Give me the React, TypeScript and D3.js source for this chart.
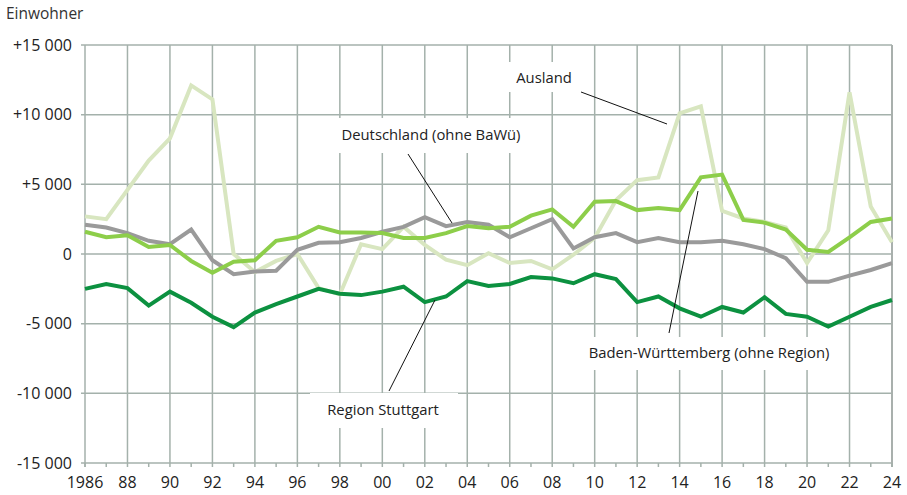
import React, { useEffect, useRef } from 'react';
import * as d3 from 'd3';

const years = d3.range(1986, 2025);

const ausland = [2700, 2500, 4600, 6700, 8300, 12100, 11100, 0, -1300, -500, 0, -2450, -2900, 700, 350, 1950, 650, -400, -800, 50, -650, -500, -1100, -50, 1150, 3850, 5300, 5500, 10100, 10600, 3100, 2550, 2300, 1900, -650, 1700, 11600, 3400, 850];
const deutschland = [2100, 1900, 1500, 950, 700, 1750, -450, -1450, -1250, -1200, 300, 800, 850, 1150, 1600, 1950, 2650, 2000, 2300, 2100, 1200, 1850, 2500, 400, 1200, 1500, 850, 1150, 850, 850, 950, 700, 350, -300, -2000, -2000, -1550, -1150, -650];
const bawue = [1600, 1200, 1350, 500, 650, -500, -1350, -550, -450, 950, 1200, 1950, 1550, 1550, 1500, 1150, 1150, 1500, 2000, 1850, 1950, 2750, 3200, 1950, 3750, 3800, 3150, 3300, 3150, 5500, 5700, 2450, 2250, 1750, 300, 150, 1200, 2300, 2550];
const stuttgart = [-2500, -2150, -2450, -3700, -2700, -3500, -4500, -5250, -4200, -3600, -3050, -2500, -2850, -2950, -2700, -2350, -3450, -3050, -1950, -2300, -2150, -1650, -1750, -2100, -1450, -1800, -3450, -3050, -3900, -4500, -3800, -4200, -3100, -4300, -4500, -5200, -4500, -3800, -3300];

const yTicks = [15000, 10000, 5000, 0, -5000, -10000, -15000];
const xLabelYears = d3.range(1986, 2025, 2);

const series = [
  { name: 'Ausland', values: ausland, color: '#d8e6c0' },
  { name: 'Deutschland (ohne BaWü)', values: deutschland, color: '#9a9a9a' },
  { name: 'Baden-Württemberg (ohne Region)', values: bawue, color: '#8dce4a' },
  { name: 'Region Stuttgart', values: stuttgart, color: '#0c9140' },
];

// label boxes + leader lines (pixel positions in the chart area)
const labels = [
  { text: 'Ausland', x: 544, y: 78, box: [505, 62, 77, 30], line: [581, 92, 667, 124] },
  { text: 'Deutschland (ohne BaWü)', x: 431, y: 135, box: [330, 118, 203, 35], line: [408, 154, 452, 223] },
  { text: 'Baden-Württemberg (ohne Region)', x: 709, y: 353, box: [572, 337, 276, 33], line: [698, 191, 669, 333] },
  { text: 'Region Stuttgart', x: 383, y: 410, box: [310, 393, 148, 35], line: [435, 300, 389, 391] },
];

const W = 907;
const H = 495;
const font = '"Open Sans", "Noto Sans", sans-serif';
const gridColor = '#a4b1ab';

export default function App() {
  const ref = useRef<SVGSVGElement>(null);

  useEffect(() => {
    const svg = d3.select(ref.current);
    svg.selectAll('*').remove();

    const x = d3.scaleLinear().domain([1986, 2024]).range([85, 892]);
    const y = d3.scaleLinear().domain([-15000, 15000]).range([463, 45]);

    const g = svg.append('g');

    // vertical gridlines every 2 years
    g.selectAll('.vgrid')
      .data(xLabelYears.slice(1))
      .enter()
      .append('line')
      .attr('x1', (d) => x(d))
      .attr('x2', (d) => x(d))
      .attr('y1', y(15000))
      .attr('y2', y(-15000))
      .attr('stroke', gridColor)
      .attr('stroke-width', 1.5);

    // horizontal gridlines
    g.selectAll('.hgrid')
      .data(yTicks)
      .enter()
      .append('line')
      .attr('x1', 81)
      .attr('x2', x(2024))
      .attr('y1', (d) => y(d))
      .attr('y2', (d) => y(d))
      .attr('stroke', gridColor)
      .attr('stroke-width', 1.5);

    // left axis
    g.append('line')
      .attr('x1', x(1986))
      .attr('x2', x(1986))
      .attr('y1', y(15000))
      .attr('y2', y(-15000) + 4)
      .attr('stroke', gridColor)
      .attr('stroke-width', 1.5);

    // right border
    g.append('line')
      .attr('x1', x(2024))
      .attr('x2', x(2024))
      .attr('y1', y(15000))
      .attr('y2', y(-15000) + 4)
      .attr('stroke', '#a9b0ad')
      .attr('stroke-width', 2);

    // small year ticks
    g.selectAll('.xtick')
      .data(years)
      .enter()
      .append('line')
      .attr('x1', (d) => x(d))
      .attr('x2', (d) => x(d))
      .attr('y1', y(-15000))
      .attr('y2', y(-15000) + 4)
      .attr('stroke', gridColor)
      .attr('stroke-width', 1.5);

    // y tick labels
    g.selectAll('.ylab')
      .data(yTicks)
      .enter()
      .append('text')
      .attr('x', 72)
      .attr('y', (d) => y(d))
      .attr('dy', '0.35em')
      .attr('text-anchor', 'end')
      .style('font-family', font)
      .style('font-size', '16px')
      .style('fill', '#222')
      .text((d) => (d > 0 ? '+' : '') + d3.format(',')(d).replace(/,/g, ' ').replace('−', '-'));

    // x labels
    g.selectAll('.xlab')
      .data(xLabelYears)
      .enter()
      .append('text')
      .attr('x', (d) => x(d))
      .attr('y', 482)
      .attr('dy', '0.35em')
      .attr('text-anchor', 'middle')
      .style('font-family', font)
      .style('font-size', '16px')
      .style('fill', '#222')
      .text((d) => (d === 1986 ? '1986' : String(d % 100).padStart(2, '0')));

    g.append('text')
      .attr('x', 6)
      .attr('y', 19)
      .style('font-family', font)
      .style('font-size', '15.5px')
      .style('fill', '#333')
      .text('Einwohner');

    // label boxes (hide gridlines behind text)
    labels.forEach((l) => {
      g.append('rect')
        .attr('x', l.box[0])
        .attr('y', l.box[1])
        .attr('width', l.box[2])
        .attr('height', l.box[3])
        .attr('fill', '#fff');
    });

    const line = d3
      .line<number>()
      .x((_, i) => x(years[i]))
      .y((d) => y(d));

    series.forEach((s) => {
      g.append('path')
        .datum(s.values)
        .attr('d', line)
        .attr('fill', 'none')
        .attr('stroke', s.color)
        .attr('stroke-width', 4)
        .attr('stroke-linejoin', 'miter');
    });

    labels.forEach((l) => {
      g.append('line')
        .attr('x1', l.line[0])
        .attr('y1', l.line[1])
        .attr('x2', l.line[2])
        .attr('y2', l.line[3])
        .attr('stroke', '#111')
        .attr('stroke-width', 1);
      g.append('text')
        .attr('x', l.x)
        .attr('y', l.y)
        .attr('dy', '0.35em')
        .attr('text-anchor', 'middle')
        .style('font-family', font)
        .style('font-size', '14.8px')
        .style('fill', '#222')
        .text(l.text);
    });
  }, []);

  return (
    <svg
      ref={ref}
      width={W}
      height={H}
      style={{ position: 'absolute', left: 0, top: 0, background: '#fff' }}
    />
  );
}
